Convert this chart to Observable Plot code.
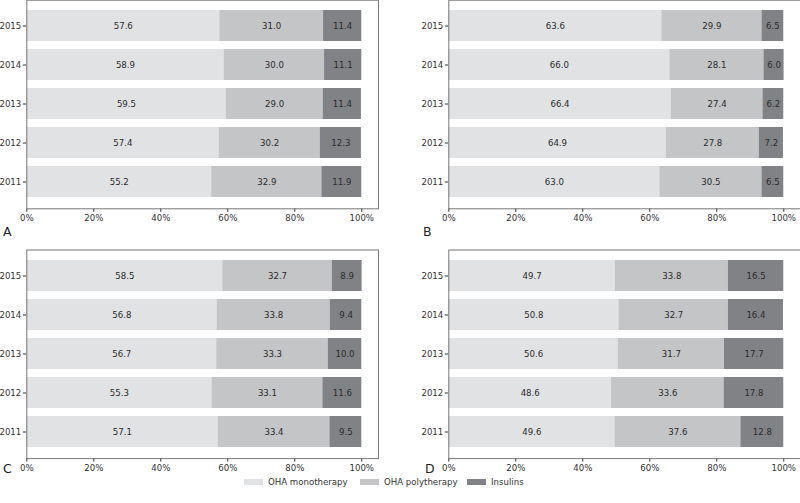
<!DOCTYPE html>
<html><head><meta charset="utf-8">
<script src="https://cdn.jsdelivr.net/npm/d3@7"></script>
<script src="https://cdn.jsdelivr.net/npm/@observablehq/plot@0.6"></script>
<style>
body{margin:0;background:#fff;}
#wrap{position:relative;width:800px;height:503px;overflow:hidden;font-family:"DejaVu Sans",sans-serif;background:#fff;}
.panel{position:absolute;}
.letter{position:absolute;font-size:12.5px;color:#222;line-height:1;}
#legend{position:absolute;left:0;top:476px;width:800px;height:12px;font-size:8.6px;color:#333;}
.sw{position:absolute;top:3px;width:19px;height:6px;}
.lt{position:absolute;top:0;line-height:12px;white-space:nowrap;}
</style></head>
<body>
<div id="wrap"></div>
<script>
const years = ["2011","2012","2013","2014","2015"];
const categories = ["OHA monotherapy","OHA polytherapy","Insulins"];
const colors = ["#e1e2e4","#c4c5c7","#818286"];
const xTicks = [0,20,40,60,80,100];
const panelLetters = ["A","B","C","D"];

// Panel A
const monoA = [55.2, 57.4, 59.5, 58.9, 57.6];
const polyA = [32.9, 30.2, 29.0, 30.0, 31.0];
const insA  = [11.9, 12.3, 11.4, 11.1, 11.4];
// Panel B
const monoB = [63.0, 64.9, 66.4, 66.0, 63.6];
const polyB = [30.5, 27.8, 27.4, 28.1, 29.9];
const insB  = [6.5, 7.2, 6.2, 6.0, 6.5];
// Panel C
const monoC = [57.1, 55.3, 56.7, 56.8, 58.5];
const polyC = [33.4, 33.1, 33.3, 33.8, 32.7];
const insC  = [9.5, 11.6, 10.0, 9.4, 8.9];
// Panel D
const monoD = [49.6, 48.6, 50.6, 50.8, 49.7];
const polyD = [37.6, 33.6, 31.7, 32.7, 33.8];
const insD  = [12.8, 17.8, 17.7, 16.4, 16.5];

function rows(mono, poly, ins) {
  return years.flatMap((y, i) => [
    {year: y, cat: categories[0], value: mono[i]},
    {year: y, cat: categories[1], value: poly[i]},
    {year: y, cat: categories[2], value: ins[i]}
  ]);
}

function panel(data, cfg) {
  return Plot.plot({
    width: 400, height: 250,
    marginTop: cfg.mt, marginBottom: 250 - cfg.mt - 208.6,
    marginLeft: cfg.ml, marginRight: cfg.mr,
    style: {fontFamily: "DejaVu Sans, sans-serif", fontSize: "8.6px", color: "#333", background: "transparent", overflow: "visible"},
    x: {domain: [0, 105], ticks: xTicks, tickFormat: d => d + "%", tickSize: 3.5, tickPadding: 2.5, label: null},
    y: {domain: years.slice().reverse(), paddingInner: 0.2, paddingOuter: 0.24, tickSize: 3.5, tickPadding: 2, label: null},
    color: {domain: categories, range: colors},
    marks: [
      Plot.barX(data, Plot.stackX({x: "value", y: "year", fill: "cat"})),
      Plot.text(data, Plot.stackX({x: "value", y: "year", z: "cat", text: d => d.value.toFixed(1), fill: "#2a2a2a"})),
      Plot.frame({stroke: "#777"})
    ]
  });
}

const wrap = document.getElementById("wrap");
const specs = [
  {data: rows(monoA, polyA, insA), left: 0,   top: -10, mt: 9.7, ml: 26.3, mr: 22},
  {data: rows(monoB, polyB, insB), left: 400, top: -10, mt: 9.7, ml: 48.3, mr: 0},
  {data: rows(monoC, polyC, insC), left: 0,   top: 240, mt: 9.5, ml: 26.3, mr: 22},
  {data: rows(monoD, polyD, insD), left: 400, top: 240, mt: 9.5, ml: 48.3, mr: 0}
];
const letterPos = [[3, 226], [423, 226], [3, 463], [425, 463]];
specs.forEach((s, i) => {
  const d = document.createElement("div");
  d.className = "panel";
  d.style.left = s.left + "px";
  d.style.top = s.top + "px";
  d.appendChild(panel(s.data, s));
  wrap.appendChild(d);
  const l = document.createElement("div");
  l.className = "letter";
  l.textContent = panelLetters[i];
  l.style.left = letterPos[i][0] + "px";
  l.style.top = letterPos[i][1] + "px";
  wrap.appendChild(l);
});

// legend
const legend = document.createElement("div");
legend.id = "legend";
const swX = [244, 360, 467];
categories.forEach((c, i) => {
  const sw = document.createElement("div");
  sw.className = "sw";
  sw.style.left = swX[i] + "px";
  sw.style.background = colors[i];
  legend.appendChild(sw);
  const t = document.createElement("div");
  t.className = "lt";
  t.style.left = (swX[i] + 24) + "px";
  t.textContent = c;
  legend.appendChild(t);
});
wrap.appendChild(legend);
</script>
</body></html>
